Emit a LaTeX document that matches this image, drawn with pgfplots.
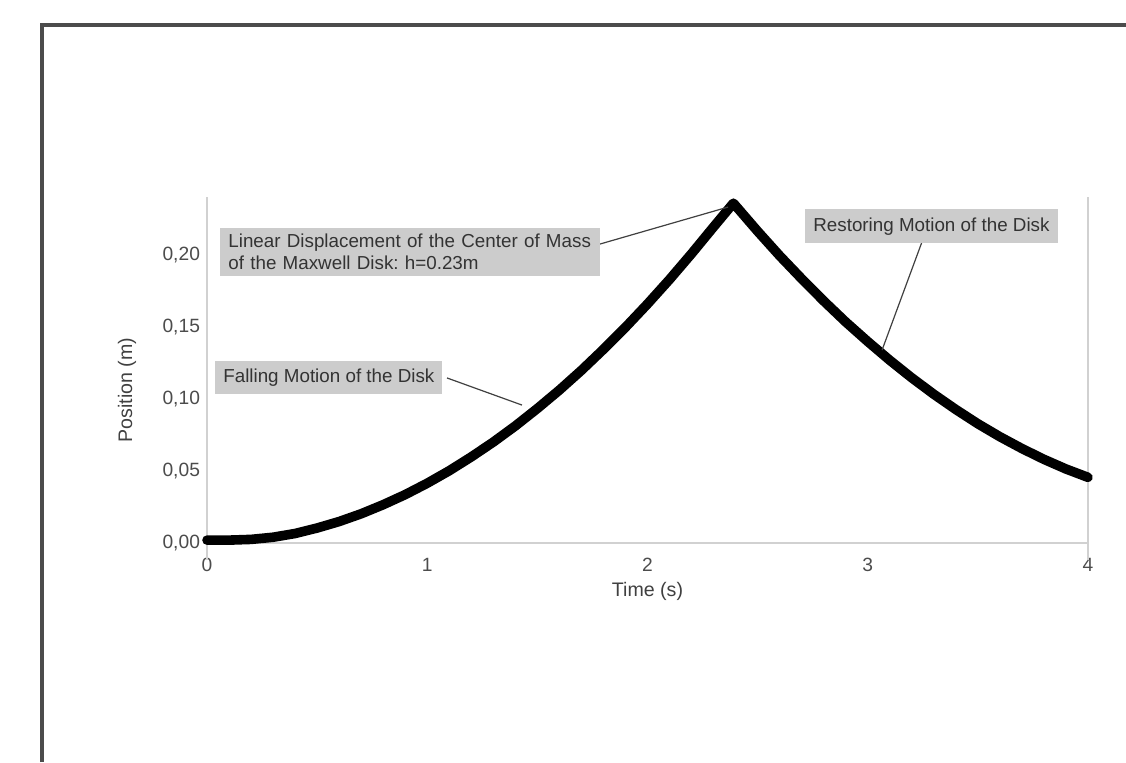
\documentclass[border=0pt]{standalone}
\usepackage{fontspec}
\setmainfont{Liberation Sans}
\usepackage{pgfplots}
\pgfplotsset{compat=1.18}
\frenchspacing
\begin{document}
\begin{tikzpicture}[x=1pt,y=1pt]
\useasboundingbox (0,0) rectangle (563,381);
\fill[white] (0,0) rectangle (563,381);
\draw[line width=1.6pt, black!70] (21,0) -- (21,368.5) -- (563,368.5);
\begin{axis}[
  at={(103.5pt,109.5pt)}, anchor=south west,
  scale only axis, width=440.5pt, height=172.8pt,
  xmin=0, xmax=4, ymin=0, ymax=0.24,
  axis x line*=bottom, axis y line*=left,
  axis line style={black!18, line width=0.6pt},
  xtick={0,1,2,3,4}, ytick={0,0.05,0.10,0.15,0.20},
  major tick length=0pt,
  tick label style={font=\fontsize{9.6}{12}\selectfont, text=black!70},
  /pgf/number format/assume math mode=true,
  yticklabel style={/pgf/number format/.cd, fixed, fixed zerofill, precision=2, use comma},
  xticklabel style={yshift=-4pt},
  xlabel={Time (s)}, ylabel={Position (m)},
  label style={font=\fontsize{9.8}{12}\selectfont, text=black!75},
  xlabel style={at={(axis description cs:0.5,-0.139)}, anchor=center},
  ylabel style={at={(axis description cs:-0.0908,0.443)}, anchor=center},
  clip=false,
]
\draw[black!18, line width=0.6pt] (axis description cs:1,-0.05) -- (axis description cs:1,1);
\draw[black!18, line width=0.6pt] (axis description cs:0,-0.05) -- (axis description cs:0,0);
\addplot[black, line width=4.8pt, line join=round, line cap=round] coordinates {
(0,0.002) (0.1,0.002) (0.2,0.0025) (0.3,0.0040) (0.4,0.0066) (0.5,0.0104)
(0.6,0.0149) (0.7,0.0203) (0.8,0.0266) (0.9,0.0336) (1.0,0.0415) (1.1,0.0502)
(1.2,0.0598) (1.3,0.0701) (1.4,0.0813) (1.5,0.0934) (1.6,0.1062) (1.7,0.1199)
(1.8,0.1345) (1.9,0.1498) (2.0,0.1660) (2.1,0.1830) (2.2,0.2009) (2.3,0.2195)
(2.39,0.2360)
(2.5,0.2165) (2.6,0.1995) (2.7,0.1835) (2.8,0.1681) (2.9,0.1535) (3.0,0.1399)
(3.1,0.1269) (3.2,0.1147) (3.3,0.1033) (3.4,0.0927) (3.5,0.0828) (3.6,0.0738)
(3.7,0.0656) (3.8,0.0581) (3.9,0.0514) (4.0,0.0456)
};
% callout lines
\draw[black!75, line width=0.6pt] (axis cs:1.784,0.2076) -- (axis cs:2.366,0.2333);
\draw[black!75, line width=0.6pt] (axis cs:3.246,0.209) -- (axis cs:3.065,0.134);
\draw[black!75, line width=0.6pt] (axis cs:1.090,0.1146) -- (axis cs:1.430,0.0958);
% boxes
\node[anchor=west, fill=black!20, text=black!80, inner xsep=4pt, inner ysep=3pt,
      text width=182pt, align=left, font=\fontsize{9.4}{11}\selectfont]
  at (axis cs:0.059,0.202) {Linear Displacement of the Center of Mass\\of the Maxwell Disk: h=0.23m};
\node[anchor=west, fill=black!20, text=black!80, inner xsep=4pt, inner ysep=4pt,
      font=\fontsize{9.4}{11}\selectfont]
  at (axis cs:2.715,0.220) {Restoring Motion of the Disk};
\node[anchor=west, fill=black!20, text=black!80, inner xsep=4pt, inner ysep=4pt,
      font=\fontsize{9.4}{11}\selectfont]
  at (axis cs:0.036,0.115) {Falling Motion of the Disk};
\end{axis}
\end{tikzpicture}
\end{document}
